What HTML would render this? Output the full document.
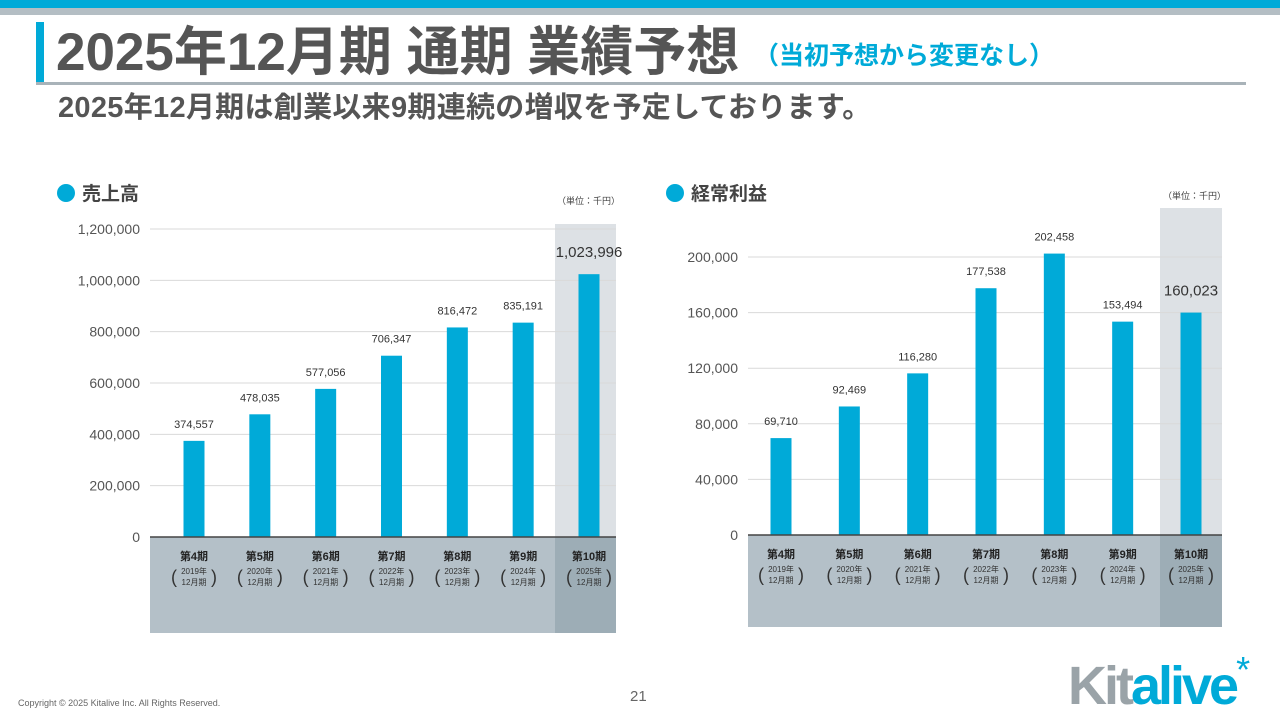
<!DOCTYPE html>
<html><head><meta charset="utf-8">
<style>
body{margin:0;width:1280px;height:720px;overflow:hidden;background:#fff;font-family:"Liberation Sans","Noto Sans CJK JP",sans-serif;position:relative}
.abs{position:absolute}
</style></head>
<body>
<div class="abs" style="left:0;top:0;width:1280px;height:8px;background:#00aad8"></div>
<div class="abs" style="left:0;top:8px;width:1280px;height:7px;background:#b4bec4"></div>
<div class="abs" style="left:36px;top:22px;width:8px;height:60px;background:#00aad8"></div>
<div class="abs" style="left:36px;top:82px;width:1210px;height:3px;background:#a9b3b9"></div>
<div class="abs" style="left:56px;top:20px;font-size:53px;font-weight:bold;color:#555;white-space:nowrap;line-height:66px">2025年12月期 通期 業績予想 <span style="font-size:25px;color:#00aad8;vertical-align:6px">（当初予想から変更なし）</span></div>
<div class="abs" style="left:58px;top:90px;font-size:29px;font-weight:bold;color:#555;white-space:nowrap;line-height:36px;letter-spacing:0.3px">2025年12月期は創業以来9期連続の増収を予定しております。</div>
<svg class="abs" style="left:0;top:0" width="1280" height="720" id="svg"></svg>
<div class="abs" style="left:18px;top:698px;font-size:9px;color:#666">Copyright © 2025 Kitalive Inc. All Rights Reserved.</div>
<div class="abs" style="left:630px;top:688px;font-size:15px;color:#666">21</div>
<div class="abs" style="left:1068px;top:638px;font-size:54px;letter-spacing:-3px;line-height:64px;font-weight:bold"><span style="color:#9aa3a8">Kit</span><span style="color:#00aad8">alive</span><span style="color:#00aad8;font-size:36px;vertical-align:22px;font-weight:normal">*</span></div>
<script>
const categories=["第4期","第5期","第6期","第7期","第8期","第9期","第10期"];
const years=["2019年","2020年","2021年","2022年","2023年","2024年","2025年"];
const sales=[374557,478035,577056,706347,816472,835191,1023996];
const profit=[69710,92469,116280,177538,202458,153494,160023];
const salesTicks=[0,200000,400000,600000,800000,1000000,1200000];
const profitTicks=[0,40000,80000,120000,160000,200000];
const svg=document.getElementById('svg');
const NS='http://www.w3.org/2000/svg';
function mk(tag,attrs,text){const e=document.createElementNS(NS,tag);for(const k in attrs)e.setAttribute(k,attrs[k]);if(text!==undefined)e.textContent=text;svg.appendChild(e);return e;}
function fmt(v){return v.toLocaleString('en-US');}
function chart(o){
  const y=v=>o.base-(v/o.tmax)*(o.base-o.ttop);
  const n=categories.length, step=(o.cLast-o.c0)/(n-1);
  const cx=i=>o.c0+step*i;
  let e;
  e=mk('circle',{cx:o.hx,cy:o.hy,r:9,fill:'#00aad8'});
  
  e=mk('text',{x:o.hx+16,y:o.hy+7,'font-size':19,'font-weight':'bold',fill:'#444'},o.title);
  
  e=mk('text',{x:o.x1+4,y:o.unitY,'font-size':9,fill:'#444','text-anchor':'end'},'（単位：千円）');
  
  e=mk('rect',{x:o.hlX,y:o.hlTop,width:o.x1-o.hlX,height:o.base-o.hlTop,fill:'#dde1e5'});
  
  o.ticks.forEach(t=>{
    if(t>0){e=mk('line',{x1:o.x0,x2:o.x1,y1:y(t),y2:y(t),stroke:'#d9d9d9','stroke-width':1});
    }
    e=mk('text',{x:o.x0-10,y:y(t)+5,'font-size':14,fill:'#555','text-anchor':'end'},fmt(t));
    
  });
  o.vals.forEach((v,i)=>{
    e=mk('rect',{x:cx(i)-10.5,y:y(v),width:21,height:o.base-y(v),fill:'#00aad8'});
    
    const last=i===n-1;
    e=mk('text',{x:cx(i),y:y(v)-(last?17:13),'font-size':last?15:11,fill:'#333','text-anchor':'middle'},fmt(v));
    
  });
  e=mk('rect',{x:o.x0,y:o.base,width:o.x1-o.x0,height:o.bandH,fill:'#b4c0c8'});
  
  e=mk('rect',{x:o.hlX,y:o.base,width:o.x1-o.hlX,height:o.bandH,fill:'#9dadb6'});
  
  e=mk('line',{x1:o.x0,x2:o.x1,y1:o.base,y2:o.base,stroke:'#444','stroke-width':1.5});
  
  categories.forEach((c,i)=>{
    e=mk('text',{x:cx(i),y:o.base+23,'font-size':11,'font-weight':'bold',fill:'#222','text-anchor':'middle'},c);
    
    e=mk('text',{x:cx(i),y:o.base+37,'font-size':8,fill:'#333','text-anchor':'middle'},years[i]);
    
    e=mk('text',{x:cx(i),y:o.base+48,'font-size':8,fill:'#333','text-anchor':'middle'},'12月期');
    
    e=mk('text',{x:cx(i)-20,y:o.base+46,'font-size':18,fill:'#333','text-anchor':'middle'},'(');
    
    e=mk('text',{x:cx(i)+20,y:o.base+46,'font-size':18,fill:'#333','text-anchor':'middle'},')');
    
  });
}
chart({title:'売上高',vals:sales,ticks:salesTicks,tmax:1200000,x0:150,x1:616,c0:194,cLast:589,hlX:555,base:537,ttop:229,hlTop:224,bandH:96,hx:66,hy:193,unitY:204});
chart({title:'経常利益',vals:profit,ticks:profitTicks,tmax:200000,x0:748,x1:1222,c0:781,cLast:1191,hlX:1160,base:535,ttop:257,hlTop:208,bandH:92,hx:675,hy:193,unitY:199});
</script>
</body></html>
